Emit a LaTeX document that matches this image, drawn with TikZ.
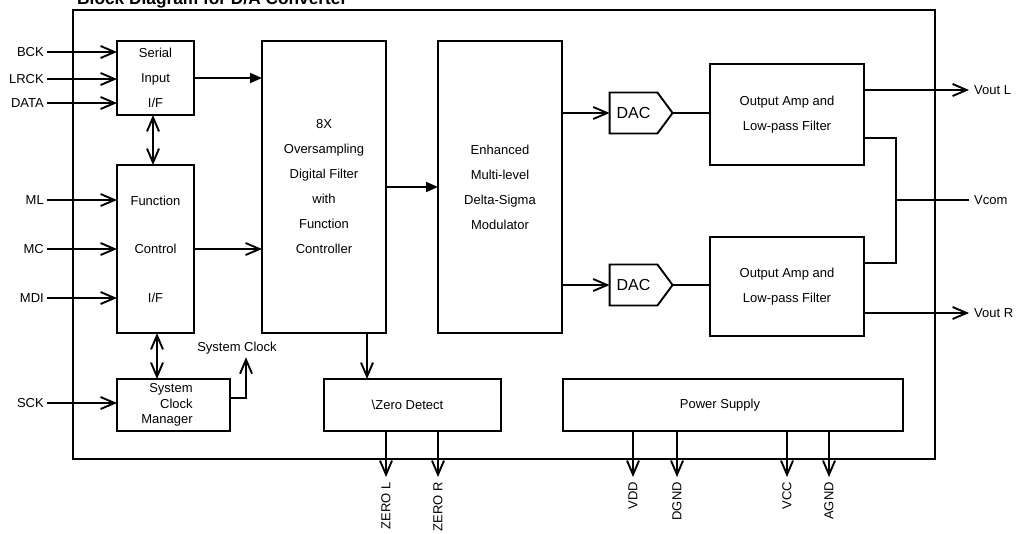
\documentclass[tikz,border=0pt]{standalone}
\usepackage{fontspec}
\setmainfont{Liberation Sans}
\usepackage{xcolor}
\usepackage{tikz}
\usetikzlibrary{arrows.meta,shapes.symbols}
\definecolor{ink}{HTML}{000000}
\tikzset{
  wire/.style={draw=ink, line width=1.9pt},
  blk/.style={draw=ink, line width=1.9pt, rectangle, inner sep=0pt, outer sep=0pt, align=center, font=\fontsize{13}{25}\selectfont},
  dac/.style={draw=ink, line width=1.9pt, shape=signal, signal to=east, signal pointer angle=107, minimum width=63pt, minimum height=41pt, inner sep=0pt, outer sep=0pt, font=\fontsize{16}{19}\selectfont},
  pin/.style={text=ink, font=\fontsize{13}{15}\selectfont, inner sep=3pt},
  vpin/.style={text=ink, font=\fontsize{13}{15}\selectfont, inner sep=5pt, rotate=90, anchor=east},
  oarr/.style={-{Straight Barb[length=14pt,width=12pt]}},
  barr/.style={{Straight Barb[length=14pt,width=12pt]}-{Straight Barb[length=14pt,width=12pt]}},
  farr/.style={-{Triangle[length=12pt,width=10pt]}}
}

\begin{document}
\begin{tikzpicture}[x=1pt, y=-1pt]
\useasboundingbox (0,0) rectangle (1016,533);
\node[anchor=base west, inner sep=0pt, font=\fontsize{17.3}{20}\selectfont\bfseries] (title) at (77,4) {Block Diagram for D/A Converter};
\draw[wire] (73,10) rectangle (935,459);

% blocks
\node[blk, minimum width=77pt, minimum height=74pt] (ser) at (155.5,78) {Serial\\Input\\I/F};
\node[blk, minimum width=77pt, minimum height=168pt, font=\fontsize{13}{48.5}\selectfont] (fn) at (155.5,249) {Function\\Control\\I/F};
\node[blk, minimum width=113pt, minimum height=52pt, font=\fontsize{13}{15.5}\selectfont] (scm) at (173.5,405) {\begin{tabular}{@{}r@{}}System\\Clock\\Manager\end{tabular}\hspace*{13pt}};
\node[blk, minimum width=124pt, minimum height=292pt] (flt) at (324,187) {8X\\Oversampling\\Digital Filter\\with\\Function\\Controller};
\node[blk, minimum width=124pt, minimum height=292pt] (mod) at (500,187) {Enhanced\\Multi-level\\Delta-Sigma\\Modulator};
\node[blk, minimum width=177pt, minimum height=52pt] (zd) at (412.5,405) {\textbackslash Zero Detect\hspace*{10pt}};
\node[blk, minimum width=340pt, minimum height=52pt] (ps) at (733,405) {Power Supply\hspace*{26pt}};
\node[dac] (dacL) at (633.5,113) {DAC};
\node[dac] (dacR) at (633.5,285) {DAC};
\node[blk, minimum width=154pt, minimum height=101pt] (ampL) at (787,114.5) {Output Amp and\\Low-pass Filter};
\node[blk, minimum width=154pt, minimum height=99pt] (ampR) at (787,286.5) {Output Amp and\\Low-pass Filter};

% input pins
\node[pin, anchor=east] (bck) at (47,52) {BCK};
\node[pin, anchor=east] (lrck) at (47,79) {LRCK};
\node[pin, anchor=east] (data) at (47,103) {DATA};
\node[pin, anchor=east] (ml) at (47,200) {ML};
\node[pin, anchor=east] (mc) at (47,249) {MC};
\node[pin, anchor=east] (mdi) at (47,298) {MDI};
\node[pin, anchor=east] (sck) at (47,403) {SCK};
\draw[wire, oarr] (bck.east) -- (bck.east -| ser.west);
\draw[wire, oarr] (lrck.east) -- (lrck.east -| ser.west);
\draw[wire, oarr] (data.east) -- (data.east -| ser.west);
\draw[wire, oarr] (ml.east) -- (ml.east -| fn.west);
\draw[wire, oarr] (mc.east) -- (mc.east -| fn.west);
\draw[wire, oarr] (mdi.east) -- (mdi.east -| fn.west);
\draw[wire, oarr] (sck.east) -- (sck.east -| scm.west);

% internal links
\coordinate (serdn) at ([xshift=-2.5pt]ser.south);
\coordinate (fndn) at ([xshift=1.5pt]fn.south);
\draw[wire, barr] (serdn) -- (serdn |- fn.north);
\draw[wire, barr] (fndn) -- (fndn |- scm.north);
\draw[wire, farr] (ser.east) -- (ser.east -| flt.west);
\draw[wire, oarr] (fn.east) -- (fn.east -| flt.west);
\draw[wire, farr] (flt.east) -- (mod.west);
\node[pin] (sysclk) at (237,348) {System Clock};
\draw[wire, oarr] ([yshift=7pt]scm.east) -| ([xshift=9pt]sysclk.south);
\coordinate (zdin) at ([xshift=43pt]flt.south);
\draw[wire, oarr] (zdin) -- (zdin |- zd.north);

% DAC and output stage
\draw[wire, oarr] (mod.east |- dacL.west) -- (dacL.west);
\draw[wire, oarr] (mod.east |- dacR.west) -- (dacR.west);
\draw[wire] (dacL.east) -- (dacL.east -| ampL.west);
\draw[wire] (dacR.east) -- (dacR.east -| ampR.west);

% outputs
\node[pin, anchor=west, inner sep=5pt] (voutL) at (969,90) {Vout L};
\node[pin, anchor=west, inner sep=5pt] (vcom) at (969,200) {Vcom};
\node[pin, anchor=west, inner sep=5pt] (voutR) at (969,313) {Vout R};
\draw[wire, oarr] (ampL.east |- voutL.west) -- (voutL.west);
\draw[wire, oarr] (ampR.east |- voutR.west) -- (voutR.west);
\coordinate (vj) at (896,200);
\draw[wire] ([yshift=-23.5pt]ampL.east) -| (vj) |- ([yshift=23.5pt]ampR.east);
\draw[wire] (vj) -- (vcom.west);

% bottom pins
\node[vpin] (zl) at (386,477) {ZERO L};
\node[vpin] (zr) at (438,477) {ZERO R};
\node[vpin] (vdd) at (633,477) {VDD};
\node[vpin] (dgnd) at (677,477) {DGND};
\node[vpin] (vcc) at (787,477) {VCC};
\node[vpin] (agnd) at (829,477) {AGND};
\draw[wire, oarr] (zd.south -| zl.east) -- (zl.east);
\draw[wire, oarr] (zd.south -| zr.east) -- (zr.east);
\draw[wire, oarr] (ps.south -| vdd.east) -- (vdd.east);
\draw[wire, oarr] (ps.south -| dgnd.east) -- (dgnd.east);
\draw[wire, oarr] (ps.south -| vcc.east) -- (vcc.east);
\draw[wire, oarr] (ps.south -| agnd.east) -- (agnd.east);
\end{tikzpicture}
\end{document}
